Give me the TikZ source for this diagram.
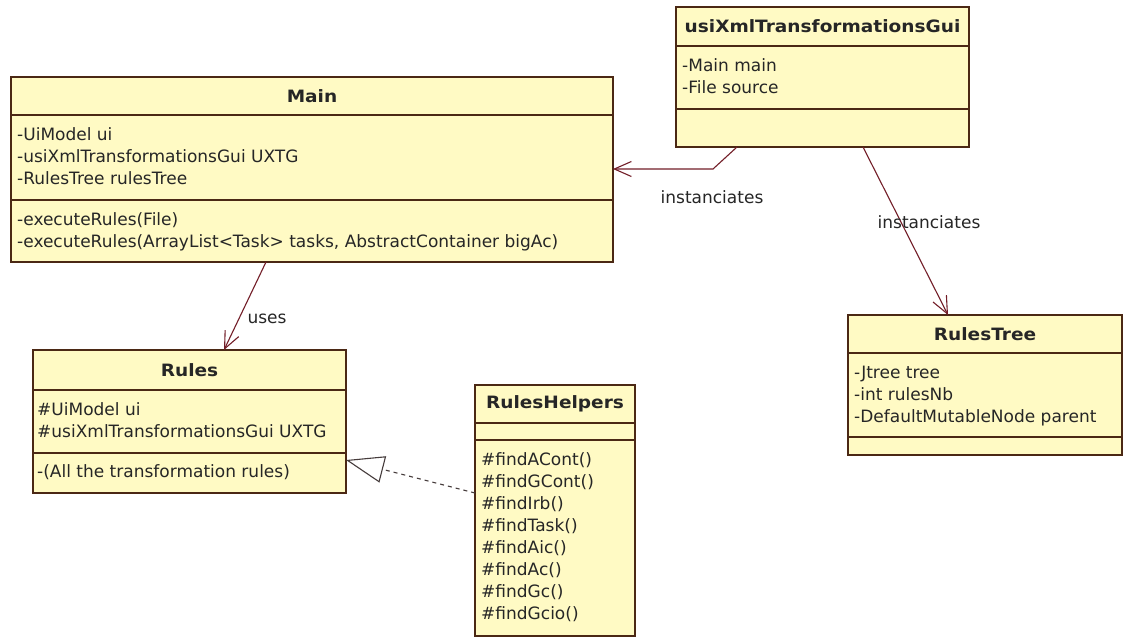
\documentclass[tikz,border=0pt]{standalone}
\usepackage{fontspec}
\setmainfont{DejaVu Sans}[BoldFeatures={FakeStretch=1.09}]
\usetikzlibrary{arrows.meta,calc}
\definecolor{classfill}{RGB}{255,250,196}
\definecolor{classline}{RGB}{75,40,20}
\definecolor{assoc}{RGB}{115,30,40}
\definecolor{realize}{RGB}{70,60,60}
\newcommand{\umlfont}{\fontsize{17}{22}\selectfont}
\begin{document}
\begin{tikzpicture}[x=1pt,y=-1pt,
  classbox/.style={draw=classline, fill=classfill, line width=1.4pt, anchor=north west,
    inner sep=0pt, outer sep=0pt},
  divider/.style={draw=classline, line width=1.4pt},
  classtitle/.style={font=\umlfont\bfseries, inner sep=0pt, text=black!85},
  member/.style={font=\umlfont, anchor=north west, align=left, inner sep=0pt, text=black!85},
  assocline/.style={draw=assoc, line width=1.1pt, -{Straight Barb[length=17pt,width=15pt]}},
  realizeline/.style={draw=realize, line width=1.1pt, dash pattern=on 4pt off 4pt,
    -{Triangle[open,length=38pt,width=27pt]}},
  lbl/.style={font=\umlfont, inner sep=0pt, text=black!85}]

% canvas
\fill[white] (0,0) rectangle (1131,639);
\useasboundingbox (0,0) rectangle (1131,639);

% ---------- Main ----------
\node[classbox, minimum width=602pt, minimum height=185pt] (main) at (11,77) {};
\draw[divider] ($(main.north west)+(0,38)$) -- ($(main.north east)+(0,38)$);
\draw[divider] ($(main.north west)+(0,123)$) -- ($(main.north east)+(0,123)$);
\node[classtitle] (mainT) at ($(main.north)+(0,19)$) {Main};
\node[member] (mainA) at ($(main.north west)+(6,47.5)$)
  {\strut-UiModel ui\\\strut-usiXmlTransformationsGui UXTG\\\strut-RulesTree rulesTree};
\node[member] (mainM) at ($(main.north west)+(6,132.5)$)
  {\strut-executeRules(File)\\\strut-executeRules(ArrayList<Task> tasks, AbstractContainer bigAc)};

% ---------- usiXmlTransformationsGui ----------
\node[classbox, minimum width=293pt, minimum height=140pt] (usi) at (676,7) {};
\draw[divider] ($(usi.north west)+(0,39)$) -- ($(usi.north east)+(0,39)$);
\draw[divider] ($(usi.north west)+(0,102)$) -- ($(usi.north east)+(0,102)$);
\node[classtitle] (usiT) at ($(usi.north)+(0,19.5)$) {usiXmlTransformationsGui};
\node[member] (usiA) at ($(usi.north west)+(6,48.5)$)
  {\strut-Main main\\\strut-File source};

% ---------- Rules ----------
\node[classbox, minimum width=313pt, minimum height=143pt] (rules) at (33,350) {};
\draw[divider] ($(rules.north west)+(0,40)$) -- ($(rules.north east)+(0,40)$);
\draw[divider] ($(rules.north west)+(0,103)$) -- ($(rules.north east)+(0,103)$);
\node[classtitle] (rulesT) at ($(rules.north)+(0,20)$) {Rules};
\node[member] (rulesA) at ($(rules.north west)+(4,49.5)$)
  {\strut\#UiModel ui\\\strut\#usiXmlTransformationsGui UXTG};
\node[member] (rulesM) at ($(rules.north west)+(4,112)$)
  {\strut-(All the transformation rules)};

% ---------- RulesHelpers ----------
\node[classbox, minimum width=160pt, minimum height=251pt] (helpers) at (475,385) {};
\draw[divider] ($(helpers.north west)+(0,38)$) -- ($(helpers.north east)+(0,38)$);
\draw[divider] ($(helpers.north west)+(0,55)$) -- ($(helpers.north east)+(0,55)$);
\node[classtitle] (helpersT) at ($(helpers.north)+(0,19)$) {RulesHelpers};
\node[member] (helpersM) at ($(helpers.north west)+(6,64.5)$)
  {\strut\#findACont()\\\strut\#findGCont()\\\strut\#findIrb()\\\strut\#findTask()\\
   \strut\#findAic()\\\strut\#findAc()\\\strut\#findGc()\\\strut\#findGcio()};

% ---------- RulesTree ----------
\node[classbox, minimum width=274pt, minimum height=140pt] (rtree) at (848,315) {};
\draw[divider] ($(rtree.north west)+(0,38)$) -- ($(rtree.north east)+(0,38)$);
\draw[divider] ($(rtree.north west)+(0,122)$) -- ($(rtree.north east)+(0,122)$);
\node[classtitle] (rtreeT) at ($(rtree.north)+(0,19)$) {RulesTree};
\node[member] (rtreeA) at ($(rtree.north west)+(6,47.5)$)
  {\strut-Jtree tree\\\strut-int rulesNb\\\strut-DefaultMutableNode parent};

% ---------- connectors ----------
\coordinate (usiOutL) at ($(usi.south west)+(61,0)$);
\coordinate (bendL) at ($(main.north east)+(100,92)$);
\coordinate (mainIn) at ($(main.north east)+(0,92)$);
\draw[assocline] (usiOutL) -- (bendL) -- (mainIn);
\node[lbl] (inst1) at (712,197) {instanciates};

\coordinate (usiOutR) at ($(usi.south west)+(187,0)$);
\coordinate (rtreeIn) at ($(rtree.north west)+(100,0)$);
\draw[assocline] (usiOutR) -- (rtreeIn);
\node[lbl] (inst2) at (929,222) {instanciates};

\coordinate (mainOut) at ($(main.south west)+(255,0)$);
\coordinate (rulesIn) at ($(rules.north west)+(191,0)$);
\draw[assocline] (mainOut) -- (rulesIn);
\node[lbl] (uses) at (267,319) {uses};

\coordinate (helpersOut) at ($(helpers.north west)+(0,108)$);
\coordinate (rulesReal) at ($(rules.north east)+(0,110)$);
\draw[realizeline] (helpersOut) -- (rulesReal);

\end{tikzpicture}
\end{document}
